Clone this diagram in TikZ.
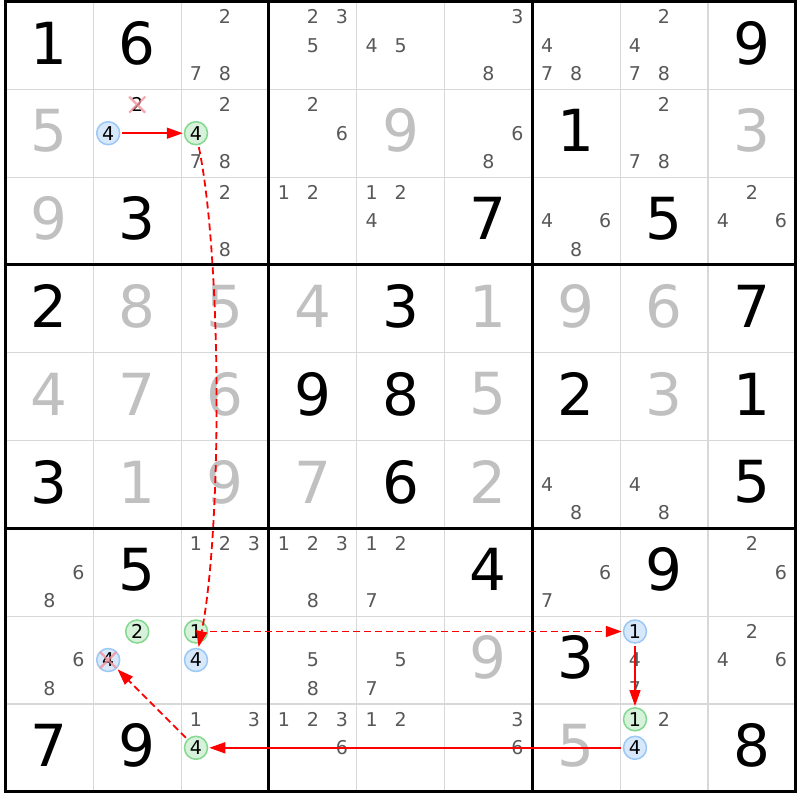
\documentclass[tikz,border=0pt]{standalone}
\usepackage{fontspec}
\setmainfont{DejaVu Sans}
\usetikzlibrary{arrows.meta}

\definecolor{solvedgray}{HTML}{C0C0C0}
\definecolor{candgray}{HTML}{585858}
\definecolor{thingray}{HTML}{D8D8D8}
\definecolor{bluefill}{HTML}{D6E8FA}
\definecolor{bluedraw}{HTML}{9CC8F5}
\definecolor{greenfill}{HTML}{D6F2DA}
\definecolor{greendraw}{HTML}{84D890}
\definecolor{crossred}{HTML}{F4909A}
\definecolor{linkred}{HTML}{FF0000}

\tikzset{
  big/.style={font=\fontsize{58}{58}\selectfont, inner sep=0pt},
  given/.style={big, text=black},
  solved/.style={big, text=solvedgray},
  cand/.style={font=\fontsize{19}{19}\selectfont, text=candgray, inner sep=0pt},
  plain/.style={cand, text=black},
  onnode/.style={circle, draw=bluedraw, fill=bluefill, line width=1.5pt,
    minimum size=23pt, inner sep=0pt, text=black, font=\fontsize{19}{19}\selectfont},
  offnode/.style={onnode, draw=greendraw, fill=greenfill},
  thinline/.style={thingray, line width=1.2pt},
  thickline/.style={black, line width=3pt},
  cross/.style={crossred, line width=2.2pt, opacity=0.8},
  strong/.style={draw=linkred, line width=1.6pt, shorten <=2pt, shorten >=1pt,
    -{Triangle[length=16pt,width=11pt,fill=linkred]}},
  weak/.style={strong, line width=1.8pt, dash pattern=on 7pt off 4pt}
}

\newcommand{\given}[3]{\node[given] (r#1c#2) at ({49.4+87.8*#2},{43+87.8*#1}) {#3};}
\newcommand{\solved}[3]{\node[solved] (r#1c#2) at ({49.4+87.8*#2},{43+87.8*#1}) {#3};}
\newcommand{\pick}[4]{\node[#1] (r#2c#3n#4) at
  ({49.4+87.8*#3+29*(mod(#4-1,3)-1)},{45.4+87.8*#2+28.5*(floor((#4-1)/3)-1)}) {#4};}
\newcommand{\cands}[3]{\foreach \k in {#3} {\pick{cand}{#1}{#2}{\k}}}
\newcommand{\strike}[1]{\draw[cross] ([shift={(-8,-8)}]#1.center) -- ([shift={(8,8)}]#1.center)
  ([shift={(-8,8)}]#1.center) -- ([shift={(8,-8)}]#1.center);}

\begin{document}
\begin{tikzpicture}[x=1pt,y=-1pt]
\useasboundingbox[fill=white] (0,0) rectangle (800,800);

\foreach \i in {1,2,4,5,7,8} {
  \draw[thinline] ({5.5+87.8*\i},1.5) -- ({5.5+87.8*\i},791.7);
  \draw[thinline] (5.5,{1.5+87.8*\i}) -- (795.7,{1.5+87.8*\i});
}
\foreach \i in {0,3,6,9} {
  \draw[thickline] ({5.5+87.8*\i},0) -- ({5.5+87.8*\i},793.2);
  \draw[thickline] (4,{1.5+87.8*\i}) -- (797.2,{1.5+87.8*\i});
}

% row 1
\given{0}{0}{1} \given{0}{1}{6} \cands{0}{2}{2,7,8} \cands{0}{3}{2,3,5}
\cands{0}{4}{4,5} \cands{0}{5}{3,8} \cands{0}{6}{4,7,8} \cands{0}{7}{2,4,7,8}
\given{0}{8}{9}
% row 2
\solved{1}{0}{5} \pick{plain}{1}{1}{2} \pick{onnode}{1}{1}{4}
\cands{1}{2}{2,7,8} \pick{offnode}{1}{2}{4} \cands{1}{3}{2,6} \solved{1}{4}{9}
\cands{1}{5}{6,8} \given{1}{6}{1} \cands{1}{7}{2,7,8} \solved{1}{8}{3}
% row 3
\solved{2}{0}{9} \given{2}{1}{3} \cands{2}{2}{2,8} \cands{2}{3}{1,2}
\cands{2}{4}{1,2,4} \given{2}{5}{7} \cands{2}{6}{4,6,8} \given{2}{7}{5}
\cands{2}{8}{2,4,6}
% row 4
\given{3}{0}{2} \solved{3}{1}{8} \solved{3}{2}{5} \solved{3}{3}{4} \given{3}{4}{3}
\solved{3}{5}{1} \solved{3}{6}{9} \solved{3}{7}{6} \given{3}{8}{7}
% row 5
\solved{4}{0}{4} \solved{4}{1}{7} \solved{4}{2}{6} \given{4}{3}{9} \given{4}{4}{8}
\solved{4}{5}{5} \given{4}{6}{2} \solved{4}{7}{3} \given{4}{8}{1}
% row 6
\given{5}{0}{3} \solved{5}{1}{1} \solved{5}{2}{9} \solved{5}{3}{7} \given{5}{4}{6}
\solved{5}{5}{2} \cands{5}{6}{4,8} \cands{5}{7}{4,8} \given{5}{8}{5}
% row 7
\cands{6}{0}{6,8} \given{6}{1}{5} \cands{6}{2}{1,2,3} \cands{6}{3}{1,2,3,8}
\cands{6}{4}{1,2,7} \given{6}{5}{4} \cands{6}{6}{6,7} \given{6}{7}{9}
\cands{6}{8}{2,6}
% row 8
\cands{7}{0}{6,8} \pick{offnode}{7}{1}{2} \pick{onnode}{7}{1}{4}
\pick{offnode}{7}{2}{1} \pick{onnode}{7}{2}{4} \cands{7}{3}{5,8} \cands{7}{4}{5,7}
\solved{7}{5}{9} \given{7}{6}{3} \pick{onnode}{7}{7}{1} \cands{7}{7}{4,7}
\cands{7}{8}{2,4,6}
% row 9
\given{8}{0}{7} \given{8}{1}{9} \cands{8}{2}{1,3} \pick{offnode}{8}{2}{4}
\cands{8}{3}{1,2,3,6} \cands{8}{4}{1,2} \cands{8}{5}{3,6} \solved{8}{6}{5}
\pick{offnode}{8}{7}{1} \cands{8}{7}{2} \pick{onnode}{8}{7}{4} \given{8}{8}{8}

\strike{r1c1n2}
\strike{r7c1n4}

\draw[strong] (r1c1n4) -- (r1c2n4);
\draw[weak] (r1c2n4) .. controls (222,260) and (222,530) .. (r7c2n4);
\draw[weak] (r7c2n1) -- (r7c7n1);
\draw[strong] (r7c7n1) -- (r8c7n1);
\draw[strong] (r8c7n4) -- (r8c2n4);
\draw[weak] (r8c2n4) -- (r7c1n4);
\end{tikzpicture}
\end{document}
